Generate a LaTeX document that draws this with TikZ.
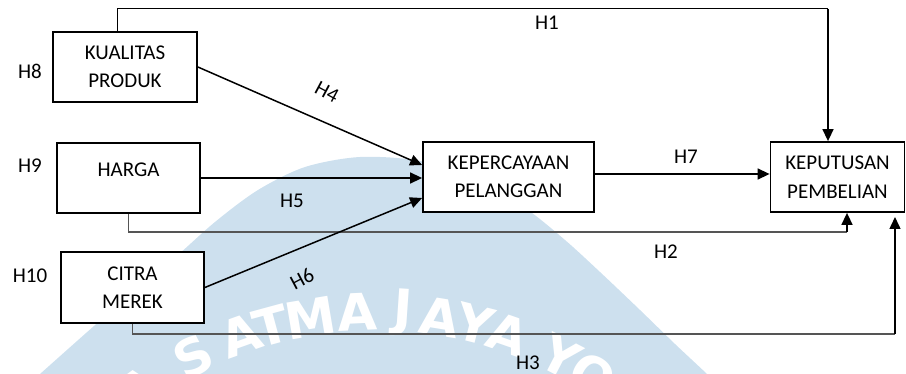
\documentclass[tikz,border=0pt]{standalone}
\usepackage{fontspec}
\setmainfont{Carlito}
\newfontfamily\wmfont{DejaVu Sans}
\usetikzlibrary{arrows.meta,calc}
\definecolor{wmblue}{RGB}{205,224,238}
\definecolor{linegray}{RGB}{85,85,85}
\tikzset{
  box/.style={draw, line width=1.8pt, fill=white, inner sep=0pt, align=center,
    font=\fontsize{21}{28.5}\selectfont},
  arr/.style={line width=1.5pt, -{Triangle[length=12pt,width=11pt]}},
  thinblk/.style={line width=1pt},
  thingray/.style={line width=1.2pt, draw=linegray},
  lab/.style={inner sep=0pt, font=\fontsize{21}{25}\selectfont},
  wm/.style={text=white, font=\wmfont\bfseries\fontsize{51}{60}\selectfont, inner sep=0pt}
}
\begin{document}
\begin{tikzpicture}[x=1pt, y=-1pt]
\useasboundingbox (0,0) rectangle (906,374);
% watermark
\begin{scope}
\clip (0,0) rectangle (906,374);
\fill[wmblue] plot[smooth] coordinates {(20,392) (40,374) (110,312) (170,262) (215,222) (258,190) (305,167) (360,157) (420,161) (475,180) (525,208) (565,240) (600,272) (640,310) (675,344) (707,374) (725,392)} -- (725,400) -- (20,400) -- cycle;
\coordinate (wmc) at (376,712);
\foreach \ch/\ang [count=\i] in {A/-36.2, S/-27.2, A/-19.7, T/-15.2, M/-9.5, A/-2.6, J/3.9, A/9.2, Y/14.3, A/19.3, Y/27.4, O/32.9}
  \node[wm, rotate=-\ang] (wm\i) at ($(wmc)+(\ang-90:400)$) {\ch};
\end{scope}
% boxes
\node[box, minimum width=144pt, minimum height=70pt] (kp) at (125,67) {KUALITAS\\PRODUK};
\node[box, minimum width=143pt, minimum height=70pt] (hg) at (128.5,178) {};
\node[lab] (hgt) at (128.5,170) {HARGA};
\node[box, minimum width=143pt, minimum height=71pt] (cm) at (132.5,287.5) {CITRA\\MEREK};
\node[box, minimum width=171pt, minimum height=70pt] (kc) at (508.5,177) {KEPERCAYAAN\\PELANGGAN};
\node[box, minimum width=134pt, minimum height=70pt] (kb) at (837.5,177) {KEPUTUSAN\\PEMBELIAN};
% side labels
\node[lab] (h8) at (30,71) {H8};
\node[lab] (h9) at (30,166) {H9};
\node[lab] (h10) at (30,276) {H10};
% H1
\coordinate (h1top) at (117,9);
\coordinate (h1r) at (828,9);
\draw[thinblk] (h1top |- kp.north) -- (h1top) -- (h1r);
\draw[arr] (h1r) -- (h1r |- kb.north);
\node[lab] (h1) at (547,23) {H1};
% H2
\coordinate (h2l) at (128.5,232);
\coordinate (h2r) at (847,232);
\draw[thingray] (hg.south) -- (h2l) -- (h2r);
\draw[arr] (h2r) -- (h2r |- kb.south);
\node[lab] (h2) at (666,252) {H2};
% H3
\coordinate (h3l) at (132.5,334);
\coordinate (h3r) at (895,334);
\coordinate (h3e) at (895,217);
\draw[thingray] (cm.south) -- (h3l) -- (h3r);
\draw[arr] (h3r) -- (h3e);
\node[lab] (h3) at (528,363) {H3};
% H4 H5 H6 H7
\draw[arr] (kp.east) -- ($(kc.west)+(0,-12)$);
\node[lab, rotate=-28] (h4) at (327,92) {H4};
\draw[arr] (hg.east) -- (kc.west |- hg.east);
\node[lab] (h5) at (292,201) {H5};
\draw[arr] (cm.east) -- ($(kc.west)+(0,21)$);
\node[lab, rotate=28] (h6) at (302,279) {H6};
\draw[arr] ($(kc.east)+(0,-3)$) -- ($(kb.west)+(0,-3)$);
\node[lab] (h7) at (686,157) {H7};
\end{tikzpicture}
\end{document}
